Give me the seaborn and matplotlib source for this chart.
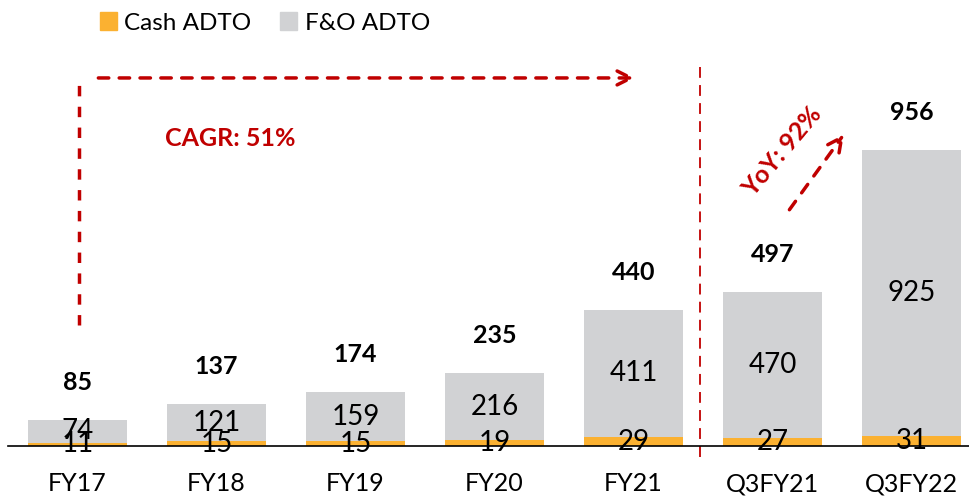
import matplotlib
matplotlib.use("Agg")
import matplotlib.pyplot as plt
import seaborn as sns
import pandas as pd
from matplotlib.patches import Patch

periodos = ["FY17", "FY18", "FY19", "FY20", "FY21", "Q3FY21", "Q3FY22"]
cash_adto = [11, 15, 15, 19, 29, 27, 31]
fo_adto = [74, 121, 159, 216, 411, 470, 925]
totales = [85, 137, 174, 235, 440, 497, 956]

df = pd.DataFrame({"periodo": periodos, "cash": cash_adto, "fo": fo_adto, "total": totales})
df["apilado"] = df["cash"] + df["fo"]

naranja = "#FBB131"
gris = "#D1D2D4"
rojo = "#C00000"

sns.set_theme(style="white", rc={"text.color": "black", "xtick.color": "black"})
plt.rcParams["font.family"] = ["Lato", "DejaVu Sans"]

fig = plt.figure(figsize=(9.69, 4.97), dpi=100)
ax = fig.add_axes([8 / 969, 51 / 497, 973 / 969, 386 / 497])

sns.barplot(data=df, x="periodo", y="apilado", color=gris, saturation=1, width=0.71, linewidth=0, ax=ax)
sns.barplot(data=df, x="periodo", y="cash", color=naranja, saturation=1, width=0.71, linewidth=0, ax=ax)

ax.set_xlim(-0.5, 6.5)
ax.set_ylim(0, 1247)
ax.set_xlabel("")
ax.set_ylabel("")
ax.set_yticks([])
for s in ["top", "right", "left"]:
    ax.spines[s].set_visible(False)
ax.spines["bottom"].set_color("black")
ax.spines["bottom"].set_linewidth(1.2)
ax.tick_params(axis="x", length=0, pad=19, labelsize=18, labelcolor="black")

# etiquetas
for i, r in df.iterrows():
    ax.text(i, r["cash"] + r["fo"] / 2, str(r["fo"]), ha="center", va="center", fontsize=20, color="black")
    ax.text(i, r["cash"] / 2, str(r["cash"]), ha="center", va="center", fontsize=20, color="black")
    ax.annotate(str(r["total"]), (i, r["apilado"]), xytext=(0, 27), textcoords="offset points",
                ha="center", va="center", fontsize=18, fontweight="bold", color="black")

# flecha CAGR
ax.plot([0.014, 0.014], [391, 1180], ls=(0, (3, 3)), color=rojo, lw=2.5, clip_on=False)
ax.annotate("", xy=(4.03, 1189), xytext=(0.13, 1189),
            arrowprops=dict(arrowstyle="->", color=rojo, lw=2.5, ls=(0, (3, 3)), mutation_scale=25))
ax.text(0.63, 995, "CAGR: 51%", color=rojo, fontsize=18, fontweight="bold", ha="left", va="center")

# separador
ax.plot([4.475, 4.475], [-35, 1224], ls=(0, (6, 4)), color=rojo, lw=1.3, clip_on=False)

# flecha YoY
ax.annotate("", xy=(5.525, 1014), xytext=(5.11, 756),
            arrowprops=dict(arrowstyle="->", color=rojo, lw=2.5, ls=(0, (3, 3)), mutation_scale=25))
ax.text(5.07, 950, "YoY: 92%", color=rojo, fontsize=18, fontweight="bold", rotation=50,
        ha="center", va="center")

handles = [Patch(color=naranja, label="Cash ADTO"), Patch(color=gris, label="F&O ADTO")]
fig.legend(handles=handles, loc="center left", bbox_to_anchor=(78 / 969, 1 - 23 / 497), ncol=2,
           frameon=False, fontsize=17.5, handlelength=0.7, handleheight=0.7, handletextpad=0.3,
           columnspacing=1.2, labelcolor="black")

fig.savefig("out.png", dpi=100)
